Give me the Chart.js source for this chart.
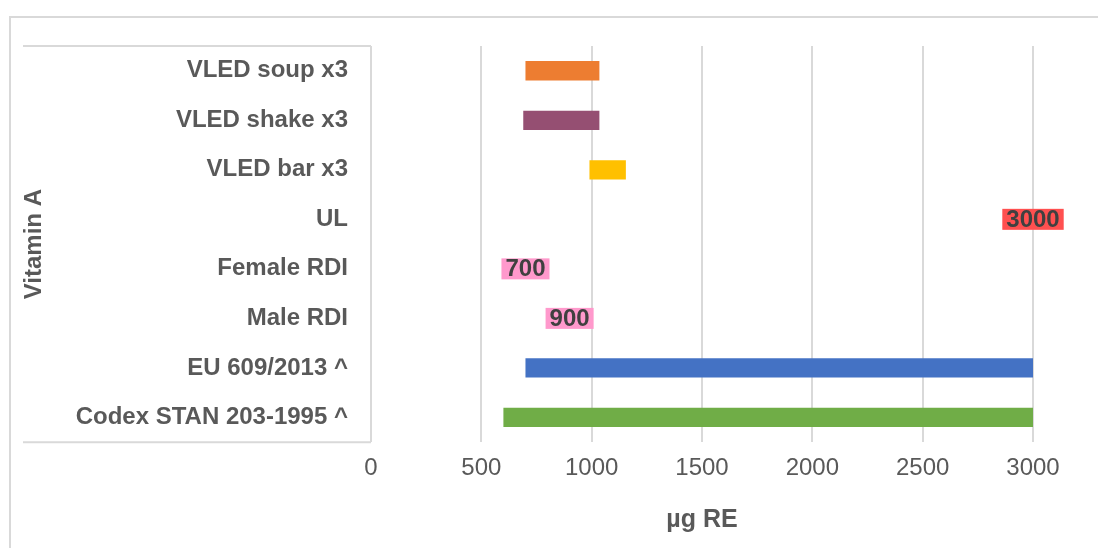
<!DOCTYPE html>
<html>
<head>
<meta charset="utf-8">
<script src="https://cdn.jsdelivr.net/npm/chart.js@4"></script>
<style>
  body { margin: 0; background: #fff; }
  #wrap { width: 1098px; height: 548px; }
</style>
</head>
<body>
<div id="wrap"><canvas id="vitaminChart" width="1098" height="548"></canvas></div>
<script>
// categories, top to bottom
const categories = ["VLED soup x3", "VLED shake x3", "VLED bar x3", "UL", "Female RDI", "Male RDI", "EU 609/2013 ^", "Codex STAN 203-1995 ^"];
// range bars [from, to] in µg RE (null = no bar on that row)
const rangeStart = [700, 690, 990, null, null, null, 700, 600];
const rangeEnd = [1035, 1035, 1155, null, null, null, 3000, 3000];
const barColors = ["#ED7D31", "#954F72", "#FFC000", null, null, null, "#4472C4", "#70AD47"];
// single reference values shown as labels
const refValues = [null, null, null, 3000, 700, 900, null, null];
const refColors = [null, null, null, "#FF5050", "#FF99CC", "#FF99CC", null, null];
const xTicks = [0, 500, 1000, 1500, 2000, 2500, 3000];

const gridGrey = "#d9d9d9";
const textGrey = "#595959";

Chart.defaults.font.family = "'Liberation Sans', Arial, sans-serif";

// frame lines round the chart and the category "table"
const framePlugin = {
  id: "frame",
  beforeDraw(chart) {
    const ctx = chart.ctx;
    const area = chart.chartArea;
    const yScale = chart.scales.y;
    ctx.save();
    ctx.strokeStyle = gridGrey;
    ctx.lineWidth = 2;
    ctx.beginPath();
    ctx.moveTo(10, chart.height);
    ctx.lineTo(10, 17);
    ctx.lineTo(chart.width, 17);
    ctx.moveTo(yScale.left + 3, area.top);
    ctx.lineTo(area.left, area.top);
    ctx.moveTo(yScale.left + 3, area.bottom);
    ctx.lineTo(area.left, area.bottom);
    ctx.stroke();
    ctx.restore();
  }
};

// value boxes for the single reference values
const refLabelPlugin = {
  id: "refLabels",
  afterDatasetsDraw(chart) {
    const ctx = chart.ctx;
    const xs = chart.scales.x;
    const ys = chart.scales.y;
    ctx.save();
    ctx.font = "bold 24px 'Liberation Sans', Arial, sans-serif";
    ctx.textAlign = "center";
    ctx.textBaseline = "middle";
    refValues.forEach((v, i) => {
      if (v === null) return;
      const cx = xs.getPixelForValue(v);
      const cy = ys.getPixelForValue(i);
      const txt = String(v);
      const w = ctx.measureText(txt).width + 8;
      const h = 21;
      ctx.fillStyle = refColors[i];
      ctx.fillRect(cx - w / 2, cy - h / 2, w, h);
      ctx.fillStyle = "#404040";
      ctx.fillText(txt, cx, cy + 1);
    });
    ctx.restore();
  }
};

const ctx = document.getElementById("vitaminChart").getContext("2d");

new Chart(ctx, {
  type: "bar",
  data: {
    labels: categories,
    datasets: [
      {
        label: "Vitamin A",
        data: rangeStart.map((s, i) => (s === null ? null : [s, rangeEnd[i]])),
        backgroundColor: barColors,
        borderWidth: 0,
        categoryPercentage: 1,
        barPercentage: 0.39
      }
    ]
  },
  options: {
    indexAxis: "y",
    responsive: false,
    animation: false,
    layout: { padding: { top: 46, right: 65, bottom: 13, left: 20 } },
    plugins: {
      legend: { display: false },
      tooltip: { enabled: false }
    },
    scales: {
      x: {
        min: 0,
        max: 3000,
        afterBuildTicks: (s) => { s.ticks = xTicks.map((v) => ({ value: v })); },
        grid: { color: gridGrey, lineWidth: 2, drawTicks: false },
        border: { display: false },
        ticks: {
          color: textGrey,
          font: { size: 24 },
          padding: 12,
          maxRotation: 0,
          callback: (v) => String(v)
        },
        title: {
          display: true,
          text: "µg RE",
          color: textGrey,
          font: { size: 25, weight: "bold" },
          padding: { top: 10, bottom: 0 }
        }
      },
      y: {
        afterFit: (s) => { s.width = 351; },
        grid: { display: false, drawTicks: false },
        border: { display: false },
        ticks: { color: textGrey, font: { size: 24, weight: "bold" }, padding: 23 },
        title: {
          display: true,
          text: "Vitamin A",
          color: textGrey,
          font: { size: 24, weight: "bold" },
          padding: 0
        }
      }
    }
  },
  plugins: [framePlugin, refLabelPlugin]
});
</script>
</body>
</html>
